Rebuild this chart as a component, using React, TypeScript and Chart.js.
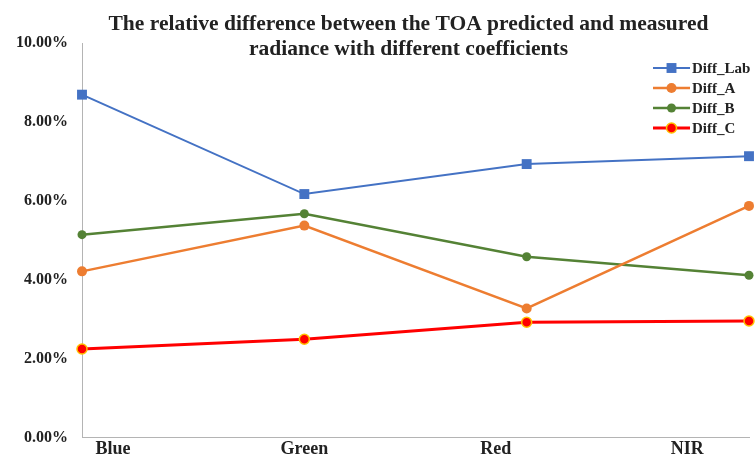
import React, { useEffect, useRef } from 'react';
import { Chart, registerables } from 'chart.js';

Chart.register(...registerables);

// Spectral bands on the x axis
const bands = ['Blue', 'Green', 'Red', 'NIR'];

// Relative difference (%) for each coefficient set
const diffLab = [8.69, 6.17, 6.93, 7.13];
const diffA = [4.21, 5.37, 3.27, 5.87];
const diffB = [5.14, 5.67, 4.58, 4.11];
const diffC = [2.24, 2.49, 2.92, 2.95];

// Y axis range and step (%)
const yMin = 0;
const yMax = 10;
const yStep = 2;

const titleLines = [
  'The relative difference between the TOA predicted and measured',
  'radiance with different coefficients',
];

const SERIF = '"Liberation Serif", "Times New Roman", serif';
const TEXT = '#222222';
const AXIS = '#B4B4B4';

// Draws the title and the legend on top of the plot area
const overlayText = {
  id: 'overlayText',
  afterDraw(chart: any) {
    const { ctx, chartArea } = chart;
    ctx.save();
    ctx.fillStyle = TEXT;
    ctx.font = `bold 21.5px ${SERIF}`;
    ctx.textAlign = 'center';
    ctx.textBaseline = 'alphabetic';
    const cx = (chartArea.left + chartArea.right) / 2 - 7;
    titleLines.forEach((t, i) => ctx.fillText(t, cx, 30 + i * 25));

    chart.data.datasets.forEach((ds: any, i: number) => {
      const y = 68 + i * 20;
      ctx.strokeStyle = ds.borderColor;
      ctx.lineWidth = ds.borderWidth;
      ctx.beginPath();
      ctx.moveTo(653, y);
      ctx.lineTo(690, y);
      ctx.stroke();

      const mx = 671.5;
      const r = ds.pointRadius;
      ctx.fillStyle = ds.pointBackgroundColor;
      ctx.strokeStyle = ds.pointBorderColor;
      ctx.lineWidth = ds.pointBorderWidth;
      ctx.beginPath();
      if (ds.pointStyle === 'rect') {
        const s = r * Math.SQRT1_2;
        ctx.rect(mx - s, y - s, 2 * s, 2 * s);
      } else {
        ctx.arc(mx, y, r, 0, Math.PI * 2);
      }
      ctx.fill();
      if (ds.pointBorderWidth > 0) ctx.stroke();

      ctx.fillStyle = TEXT;
      ctx.font = `bold 15px ${SERIF}`;
      ctx.textAlign = 'left';
      ctx.textBaseline = 'middle';
      ctx.fillText(ds.label, 692, y + 1);
    });
    ctx.restore();
  },
};

export default function App() {
  const canvasRef = useRef<HTMLCanvasElement | null>(null);

  useEffect(() => {
    document.body.style.margin = '0';
    const canvas = canvasRef.current;
    if (!canvas) return;

    const series = (label: string, data: number[], color: string, width: number, extra: any) => ({
      label,
      data,
      borderColor: color,
      backgroundColor: color,
      borderWidth: width,
      pointBackgroundColor: color,
      pointBorderColor: color,
      pointBorderWidth: 0,
      tension: 0,
      clip: false,
      ...extra,
    });

    const chart = new Chart(canvas, {
      type: 'line',
      data: {
        labels: bands,
        datasets: [
          series('Diff_Lab', diffLab, '#4472C4', 2, { pointStyle: 'rect', pointRadius: 7 }),
          series('Diff_A', diffA, '#ED7D31', 2.5, { pointStyle: 'circle', pointRadius: 5 }),
          series('Diff_B', diffB, '#548235', 2.5, { pointStyle: 'circle', pointRadius: 4.5 }),
          series('Diff_C', diffC, '#FF0000', 3, {
            pointStyle: 'circle',
            pointRadius: 5,
            pointBorderColor: '#FFC000',
            pointBorderWidth: 1.5,
          }),
        ],
      },
      options: {
        responsive: false,
        maintainAspectRatio: false,
        devicePixelRatio: 1,
        animation: false,
        layout: { padding: { top: 43, right: 5, left: 0, bottom: 0 } },
        plugins: {
          legend: { display: false },
          title: { display: false },
          tooltip: { enabled: false },
        },
        scales: {
          x: {
            type: 'category',
            offset: false,
            weight: 0,
            grid: { display: false, drawTicks: false },
            border: { display: true, color: AXIS, width: 1 },
            ticks: { display: false },
          },
          xl: {
            type: 'linear',
            position: 'bottom',
            weight: 1,
            min: -0.1614,
            max: 3.323,
            grid: { display: false, drawTicks: false },
            border: { display: false },
            afterBuildTicks: (scale: any) => {
              scale.ticks = bands.map((_, i) => ({ value: i }));
            },
            afterFit: (scale: any) => {
              scale.height = 21;
              scale.paddingLeft = 0;
              scale.paddingRight = 0;
            },
            ticks: {
              autoSkip: false,
              maxRotation: 0,
              padding: 1,
              color: TEXT,
              font: { family: SERIF, size: 18, weight: 'bold', lineHeight: 1.2 },
              callback: (v: any) => bands[Math.round(Number(v))] ?? '',
            },
          },
          y: {
            min: yMin,
            max: yMax,
            grid: { display: false, drawTicks: false },
            border: { display: true, color: AXIS, width: 1 },
            afterFit: (scale: any) => {
              scale.width = 82;
            },
            ticks: {
              stepSize: yStep,
              padding: 14,
              color: TEXT,
              font: { family: SERIF, size: 16, weight: 'bold' },
              callback: (v: any) => `${Number(v).toFixed(2)}%`,
            },
          },
        },
      },
      plugins: [overlayText],
    } as any);

    return () => chart.destroy();
  }, []);

  return (
    <div style={{ width: 756, height: 461, background: '#fff' }}>
      <canvas ref={canvasRef} width={756} height={461} style={{ display: 'block' }} />
    </div>
  );
}
